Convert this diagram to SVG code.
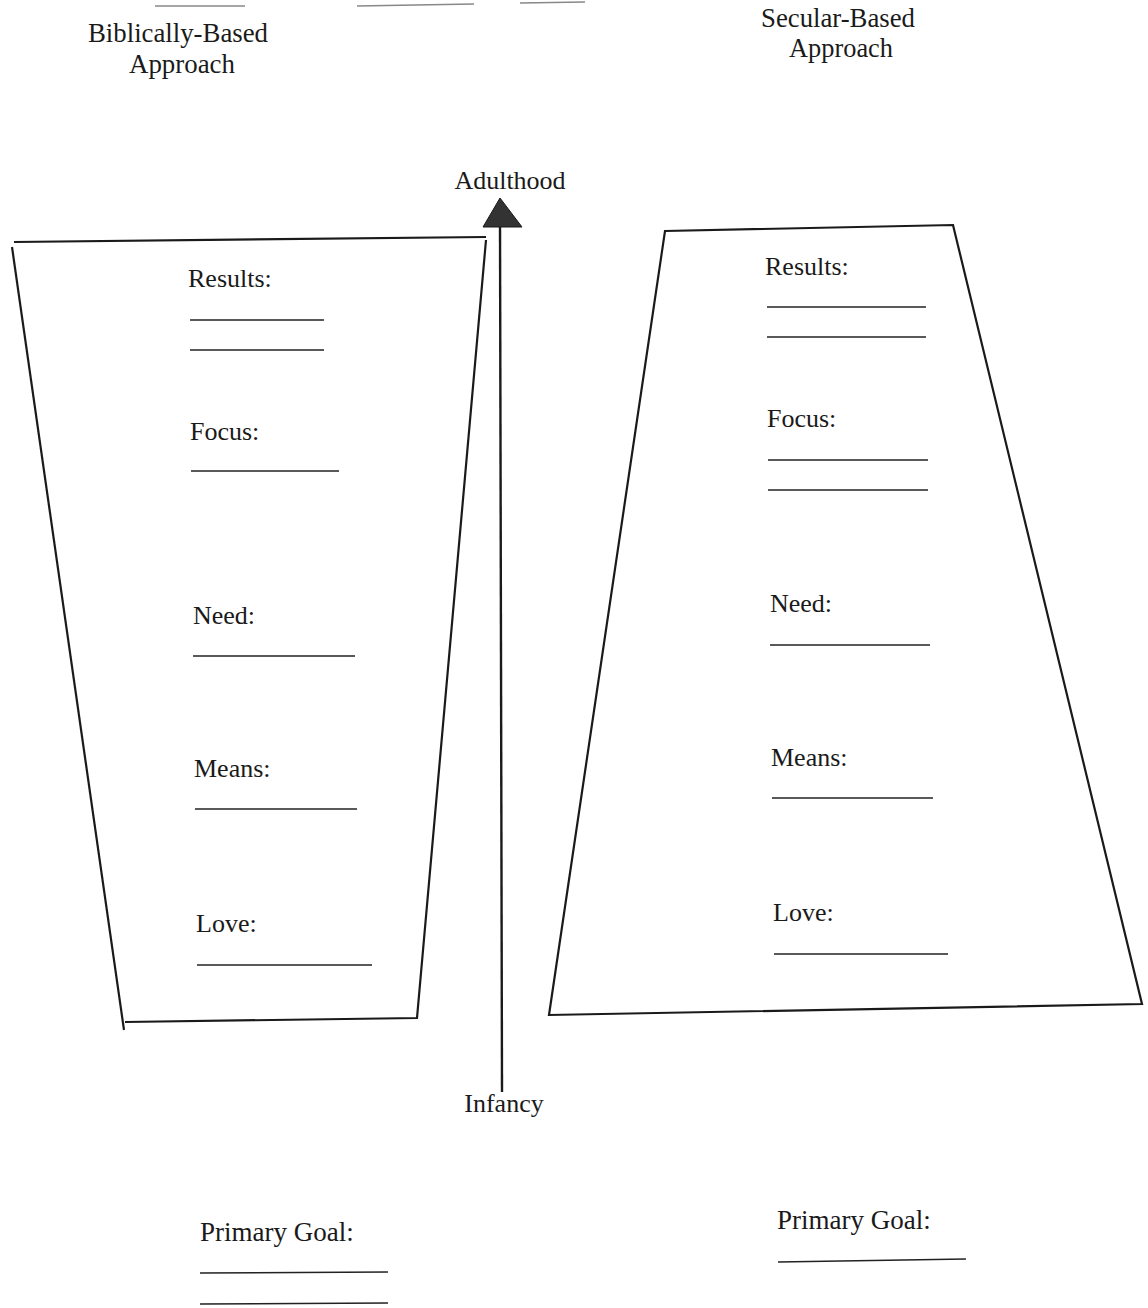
<svg xmlns="http://www.w3.org/2000/svg" width="1148" height="1308" viewBox="0 0 1148 1308">
<style>
text{font-family:"Liberation Serif","Times New Roman",serif;fill:#1a1a1a;font-size:26px}
.h{font-size:27px}
.g{font-size:27px}
.shape{fill:none;stroke:#1a1a1a;stroke-width:2.2;stroke-linejoin:miter}
.ul{stroke:#222;stroke-width:1.4}
.faint{stroke:#888;stroke-width:1.5}
</style>
<rect width="1148" height="1308" fill="#fff"/>
<g id="scan-marks">
<line class="faint" x1="155" y1="6" x2="245" y2="6"/>
<line class="faint" x1="357" y1="6" x2="474" y2="4"/>
<line class="faint" x1="520" y1="3" x2="585" y2="2"/>
</g>
<g id="headers">
<text class="h" x="88" y="42" textLength="180" lengthAdjust="spacingAndGlyphs">Biblically-Based</text>
<text class="h" x="129" y="73" textLength="106" lengthAdjust="spacingAndGlyphs">Approach</text>
<text class="h" x="761" y="27" textLength="154" lengthAdjust="spacingAndGlyphs">Secular-Based</text>
<text class="h" x="789" y="57" textLength="104" lengthAdjust="spacingAndGlyphs">Approach</text>
</g>
<g id="connectors">
<line x1="500" y1="222" x2="502" y2="1092" stroke="#1a1a1a" stroke-width="2.4"/>
<polygon points="500,198 483,227 522,227" fill="#333" stroke="#1a1a1a" stroke-width="1"/>
</g>
<g id="axis-labels">
<text x="510" y="189" text-anchor="middle">Adulthood</text>
<text x="504" y="1112" text-anchor="middle">Infancy</text>
</g>
<g id="biblical-node">
<polyline class="shape" points="12,247 124,1030"/>
<polyline class="shape" points="14,242 486,237"/>
<polyline class="shape" points="486,240 417,1018 125,1022"/>
<text x="188" y="287">Results:</text>
<line class="ul" x1="190" y1="320" x2="324" y2="320"/>
<line class="ul" x1="190" y1="350" x2="324" y2="350"/>
<text x="190" y="440">Focus:</text>
<line class="ul" x1="191" y1="471" x2="339" y2="471"/>
<text x="193" y="624">Need:</text>
<line class="ul" x1="193" y1="656" x2="355" y2="656"/>
<text x="194" y="777">Means:</text>
<line class="ul" x1="195" y1="809" x2="357" y2="809"/>
<text x="196" y="932">Love:</text>
<line class="ul" x1="197" y1="965" x2="372" y2="965"/>
</g>
<g id="secular-node">
<polygon class="shape" points="665,231 953,225 1142,1004 549,1015"/>
<text x="765" y="275">Results:</text>
<line class="ul" x1="767" y1="307" x2="926" y2="307"/>
<line class="ul" x1="767" y1="337" x2="926" y2="337"/>
<text x="767" y="427">Focus:</text>
<line class="ul" x1="768" y1="460" x2="928" y2="460"/>
<line class="ul" x1="768" y1="490" x2="928" y2="490"/>
<text x="770" y="612">Need:</text>
<line class="ul" x1="770" y1="645" x2="930" y2="645"/>
<text x="771" y="766">Means:</text>
<line class="ul" x1="772" y1="798" x2="933" y2="798"/>
<text x="773" y="921">Love:</text>
<line class="ul" x1="774" y1="954" x2="948" y2="954"/>
</g>
<g id="biblical-goal">
<text class="g" x="200" y="1241">Primary Goal:</text>
<line class="ul" x1="200" y1="1273" x2="388" y2="1272"/>
<line class="ul" x1="200" y1="1304" x2="388" y2="1303"/>
</g>
<g id="secular-goal">
<text class="g" x="777" y="1229">Primary Goal:</text>
<line class="ul" x1="778" y1="1262" x2="966" y2="1259"/>
</g>
</svg>
